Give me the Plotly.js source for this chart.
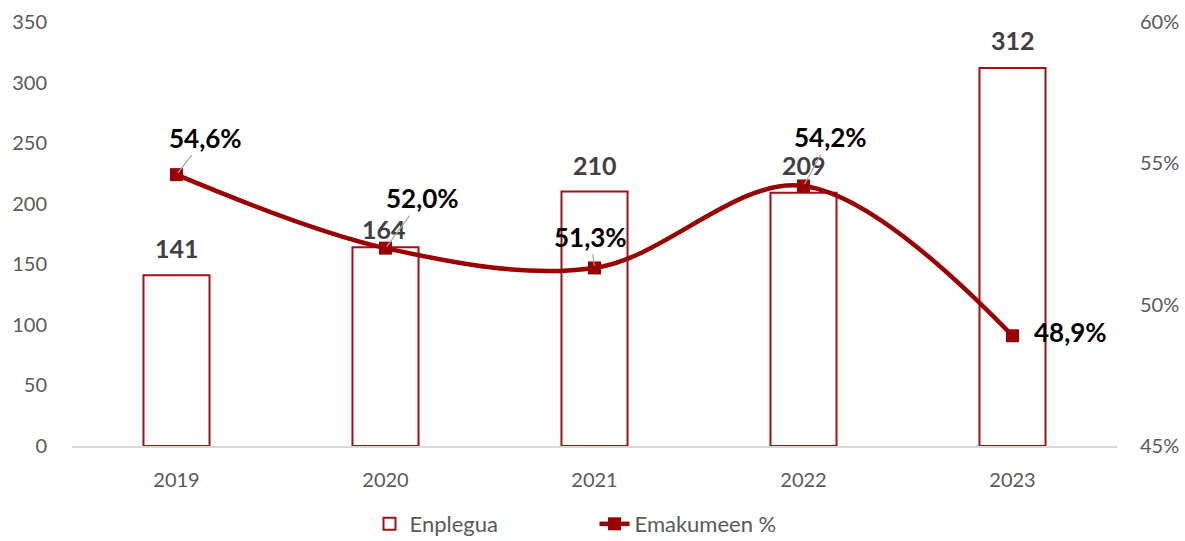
<!DOCTYPE html>
<html>
<head>
<meta charset="utf-8">
<script src="https://cdn.plot.ly/plotly-3.0.1.min.js"></script>
<style>
  html, body { margin: 0; padding: 0; background: #ffffff; }
  #chart { width: 1185px; height: 541px; }
</style>
</head>
<body>
<div id="chart"></div>
<script>
// -- Data ---------------------------------------------------------------------
var years      = ['2019', '2020', '2021', '2022', '2023'];
var enplegua   = [141, 164, 210, 209, 312];            // left axis
var emakumeen  = [54.6, 52.0, 51.3, 54.2, 48.9];       // right axis, %
var leftTicks  = [0, 50, 100, 150, 200, 250, 300, 350];
var rightTicks = [45, 50, 55, 60];

// -- Theme --------------------------------------------------------------------
var RED       = '#9B0000';
var BAR_LINE  = '#A50F15';
var TICK_GRAY = '#595959';
var FONT      = 'Lato, "Open Sans", sans-serif';

function pct(v) { return v.toFixed(1).replace('.', ',') + '%'; }

var bars = {
  type: 'bar',
  name: 'Enplegua',
  x: years,
  y: enplegua,
  yaxis: 'y',
  marker: { color: '#ffffff', line: { color: BAR_LINE, width: 2 } },
  hoverinfo: 'skip'
};

var line = {
  type: 'scatter',
  mode: 'lines+markers',
  name: 'Emakumeen %',
  x: years,
  y: emakumeen,
  yaxis: 'y2',
  line: { color: RED, width: 4.5, shape: 'spline', smoothing: 1 },
  marker: { symbol: 'square', size: 13, color: RED },
  hoverinfo: 'skip'
};

// Annotations on a category axis: numeric-looking strings get read as
// indices, so position them by category index instead.
var barShift = [27, 18, 27, 28, 28];   // 164 was nudged down in the original
var annotations = [];
years.forEach(function (yr, i) {
  annotations.push({
    x: i, y: enplegua[i], xref: 'x', yref: 'y',
    text: '<b>' + enplegua[i] + '</b>',
    showarrow: false, yshift: barShift[i], xshift: i === 1 ? -2 : 0,
    font: { family: FONT, size: 25, color: '#404040' }
  });
});

// percentage labels with grey leader lines (offsets in px: ax, ay)
var lineOffsets = [[29, -37], [37, -50], [-4, -31], [27, -49], [58, -4]];
years.forEach(function (yr, i) {
  var off = lineOffsets[i];
  var a = {
    x: i, y: emakumeen[i], xref: 'x', yref: 'y2',
    text: '<b>' + pct(emakumeen[i]) + '</b>',
    font: { family: FONT, size: 26, color: '#000000' }
  };
  if (i === 4) {
    a.showarrow = false;
    a.xshift = off[0];
    a.yshift = -off[1];
  } else {
    a.showarrow = true;
    a.ax = off[0];
    a.ay = off[1];
    a.arrowhead = 0;
    a.arrowwidth = 1.2;
    a.arrowcolor = '#A6A6A6';
    a.standoff = 2;
  }
  annotations.push(a);
});

var layout = {
  width: 1185,
  height: 541,
  // fixed margins: keep the legend from squeezing the plot area
  margin: { l: 72, r: 68, t: 22, b: 95, autoexpand: false },
  paper_bgcolor: '#ffffff',
  plot_bgcolor: '#ffffff',
  font: { family: FONT, size: 20, color: TICK_GRAY },
  bargap: 0.684,
  xaxis: {
    type: 'category',
    range: [-0.5, years.length - 0.5],
    showgrid: false,
    showline: true,
    linecolor: '#D9D9D9',
    linewidth: 1.5,
    ticks: 'outside',
    ticklen: 15,
    tickcolor: 'rgba(0,0,0,0)',
    tickfont: { family: FONT, size: 20, color: TICK_GRAY }
  },
  yaxis: {
    range: [0, 350],
    tickvals: leftTicks,
    showgrid: false,
    zeroline: false,
    showline: false,
    ticks: 'outside',
    ticklen: 20,
    tickcolor: 'rgba(0,0,0,0)',
    tickfont: { family: FONT, size: 20, color: TICK_GRAY }
  },
  yaxis2: {
    overlaying: 'y',
    side: 'right',
    range: [45, 60],
    tickvals: rightTicks,
    ticktext: rightTicks.map(function (v) { return v + '%'; }),
    showgrid: false,
    zeroline: false,
    showline: false,
    ticks: 'outside',
    ticklen: 18,
    tickcolor: 'rgba(0,0,0,0)',
    tickfont: { family: FONT, size: 20, color: TICK_GRAY }
  },
  showlegend: true,
  legend: {
    orientation: 'h',
    x: 0.5, xanchor: 'center',
    y: -0.184, yanchor: 'middle',
    entrywidth: 180,
    font: { family: FONT, size: 22, color: TICK_GRAY },
    traceorder: 'normal'
  },
  annotations: annotations
};

Plotly.newPlot('chart', [bars, line], layout, { displayModeBar: false, staticPlot: true });
</script>
</body>
</html>
